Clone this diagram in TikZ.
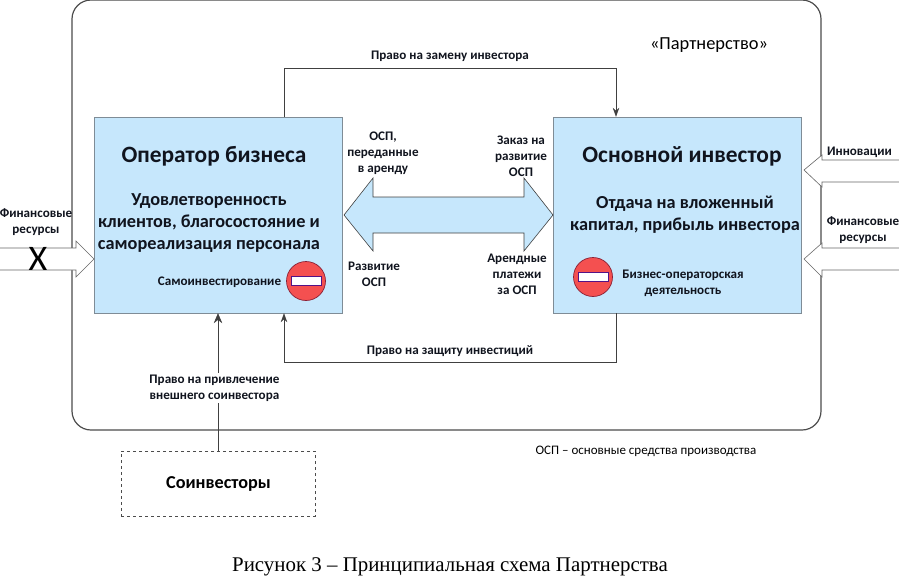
\documentclass[tikz,border=0pt]{standalone}
\usepackage{fontspec}
\setmainfont{Carlito}
\newfontfamily\captionfont{Liberation Serif}
\usetikzlibrary{arrows.meta}
\definecolor{boxblue}{HTML}{C6E7FC}
\definecolor{boxedge}{HTML}{7F8C96}
\definecolor{signred}{HTML}{F45050}
\definecolor{signedge}{HTML}{8A2035}
\definecolor{inktext}{HTML}{10141E}
\tikzset{
  px/.style={font=\fontsize{#1}{#1}\selectfont},
  agentbox/.style={draw=boxedge, fill=boxblue, minimum width=248pt, minimum height=196pt, inner sep=0pt},
  heading/.style={text=inktext, align=center, inner sep=0pt, font=\fontsize{23.4}{28}\selectfont\bfseries},
  goal/.style={text=inktext, align=center, inner sep=0pt, font=\fontsize{18.3}{22}\selectfont\bfseries},
  note/.style={text=inktext, align=center, inner sep=0pt, font=\fontsize{13.1}{16}\selectfont\bfseries},
  link/.style={draw=black!75, line width=0.6pt, -{Stealth[length=9pt, width=6.5pt]}},
  biglink/.style={link, -{Stealth[length=10pt, width=8.5pt]}},
  blockarrow/.style={draw=black!60, line width=0.6pt, fill=white},
  signdisk/.style={circle, draw=signedge, fill=signred, line width=0.7pt, minimum size=39pt, inner sep=0pt},
  signbar/.style={draw=signedge!60!blue, fill=white, line width=0.9pt, minimum width=30pt, minimum height=8.5pt, inner sep=0pt}
}
\begin{document}
\begin{tikzpicture}[x=1pt, y=-1pt]
  \useasboundingbox (0,0) rectangle (899,578);
  % Partnership frame
  \node[draw=black!70, line width=1.2pt, rounded corners=19pt, minimum width=749pt, minimum height=430pt, inner sep=0pt] (frame) at (446.5,215) {};
  \node[px=18.4, inner sep=0pt] (partner) at (709,45) {«Партнерство»};
  % Two main agents
  \node[agentbox] (operator) at (218.5,215) {};
  \node[agentbox] (investor) at (677.5,215) {};
  \node[heading] (opname) at (214,156) {Оператор бизнеса};
  \node[goal] (opgoal) at (209,223) {Удовлетворенность\\клиентов, благосостояние и\\самореализация персонала};
  \node[note] (selfinv) at (219.5,282) {Самоинвестирование};
  \node[heading] (invname) at (682,156) {Основной инвестор};
  \node[goal] (invgoal) at (685,215) {Отдача на вложенный\\капитал, прибыль инвестора};
  \node[note] (bizop) at (683,283) {Бизнес-операторская\\деятельность};
  % Barred signs
  \node[signdisk] (opsign) at (306,281) {};
  \node[signbar] (opbar) at (306,281) {};
  \node[signdisk] (invsign) at (593,277) {};
  \node[signbar] (invbar) at (593,277) {};
  % Exchange between agents
  \draw[draw=black!75, line width=0.6pt, fill=boxblue] (344,215) -- (373,178) -- (373,197) -- (524,197) -- (524,178) -- (553,215) -- (524,251) -- (524,233) -- (373,233) -- (373,251) -- cycle;
  \node[note] (leased) at (383,153) {ОСП,\\переданные\\в аренду};
  \node[note] (order) at (521,156) {Заказ на\\развитие\\ОСП};
  \node[note] (develop) at (374,274) {Развитие\\ОСП};
  \node[note] (rent) at (517,274) {Арендные\\платежи\\за ОСП};
  % Rights of the agents
  \coordinate (topleft) at (284,68);
  \coordinate (topright) at (616,68);
  \coordinate (lowright) at (616,362);
  \coordinate (lowleft) at (284,362);
  \draw[link] (operator.north -| topleft) -- (topleft) -- (topright) -- (investor.north -| topright);
  \draw[link] (investor.south -| lowright) -- (lowright) -- (lowleft) -- (operator.south -| lowleft);
  \node[note] (replace) at (450,56) {Право на замену инвестора};
  \node[note] (protect) at (450,351) {Право на защиту инвестиций};
  % Co-investors
  \node[draw=black!70, dashed, line width=0.5pt, minimum width=194pt, minimum height=65pt, inner sep=0pt] (coinv) at (218,483.5) {};
  \node[inner sep=0pt, font=\fontsize{18.2}{20}\selectfont\bfseries] (coname) at (218.5,484) {Соинвесторы};
  \draw[biglink] (coinv.north) -- (coinv.north |- operator.south);
  \node[note, fill=white, inner ysep=2pt] (attract) at (214.5,388) {Право на привлечение\\внешнего соинвестора};
  % Outer flows
  \draw[blockarrow] (0,248) -- (76,248) -- (76,241) -- (94,259) -- (76,277) -- (76,270) -- (0,270);
  \draw[blockarrow] (899,160) -- (822,160) -- (822,155) -- (804,170) -- (822,187) -- (822,182) -- (899,182);
  \draw[blockarrow] (899,248) -- (822,248) -- (822,243) -- (804,259) -- (822,277) -- (822,270) -- (899,270);
  \node[note] (finleft) at (36,222.5) {Финансовые\\ресурсы};
  \node[px=36, inner sep=0pt] (cross) at (38,259) {X};
  \node[note] (innov) at (859.5,152) {Инновации};
  \node[note] (finright) at (863,230) {Финансовые\\ресурсы};
  \node[px=13, inner sep=0pt] (legend) at (646,451) {ОСП – основные средства производства};
  \node[inner sep=0pt, font=\captionfont\fontsize{20.9}{24}\selectfont] (caption) at (450,567) {Рисунок 3 – Принципиальная схема Партнерства};
\end{tikzpicture}
\end{document}
